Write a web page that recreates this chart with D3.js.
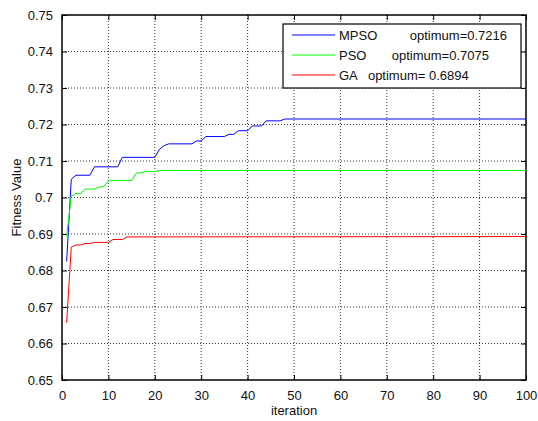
<!DOCTYPE html>
<html>
<head>
<meta charset="utf-8">
<script src="https://cdn.jsdelivr.net/npm/d3@7"></script>
<style>
  body { margin: 0; background: #fff; }
  text { font-family: "Liberation Sans", Arial, sans-serif; fill: #111; }
</style>
</head>
<body>
<svg id="chart"></svg>
<script>
// iteration / value pairs (break points of each curve)
const mpsoIter = [1, 2, 3, 6, 7, 12, 13, 20, 21, 22, 23, 28, 29, 30, 31, 35, 36, 37, 38, 40, 41, 43, 44, 47, 48, 100];
const mpsoVal  = [0.6825, 0.7050, 0.7061, 0.7061, 0.7084, 0.7084, 0.7110, 0.7110, 0.7132, 0.7142, 0.7147, 0.7147,
                  0.7155, 0.7155, 0.7167, 0.7167, 0.7173, 0.7173, 0.7183, 0.7183, 0.7196, 0.7196, 0.7210, 0.7210, 0.7215, 0.7215];
const psoIter = [1, 2, 3, 4, 5, 7, 8, 9, 10, 15, 16, 17, 18, 20, 21, 100];
const psoVal  = [0.6893, 0.7004, 0.7011, 0.7011, 0.7023, 0.7023, 0.7029, 0.7030, 0.7046, 0.7047, 0.7067, 0.7068,
                 0.7071, 0.7071, 0.7074, 0.7074];
const gaIter = [1, 2, 3, 4, 5, 6, 7, 10, 11, 13, 14, 100];
const gaVal  = [0.6657, 0.6864, 0.6870, 0.6870, 0.6874, 0.6874, 0.6877, 0.6877, 0.6885, 0.6885, 0.6892, 0.6893];

const seriesNames = ["MPSO", "PSO", "GA"];
const legendLabels = ["MPSO         optimum=0.7216", "PSO       optimum=0.7075", "GA   optimum= 0.6894"];
const seriesColors = ["#0000ff", "#00ff00", "#ff0000"];

const xTicks = [0, 10, 20, 30, 40, 50, 60, 70, 80, 90, 100];
const yTicks = [0.65, 0.66, 0.67, 0.68, 0.69, 0.70, 0.71, 0.72, 0.73, 0.74, 0.75];

const width = 538, height = 421;
const margin = { left: 62, right: 12, top: 15, bottom: 41 };
const w = width - margin.left - margin.right;
const h = height - margin.top - margin.bottom;

const svg = d3.select("#chart").attr("width", width).attr("height", height);
const g = svg.append("g").attr("transform", `translate(${margin.left},${margin.top})`);

const x = d3.scaleLinear().domain([0, 100]).range([0, w]);
const y = d3.scaleLinear().domain([0.65, 0.75]).range([h, 0]);

// dotted grid
g.append("g").selectAll("line").data(xTicks.slice(1, -1)).join("line")
  .attr("x1", d => x(d)).attr("x2", d => x(d)).attr("y1", 0).attr("y2", h)
  .attr("stroke", "#333").attr("stroke-width", 1).attr("stroke-dasharray", "1,2");
g.append("g").selectAll("line").data(yTicks.slice(1, -1)).join("line")
  .attr("y1", d => y(d)).attr("y2", d => y(d)).attr("x1", 0).attr("x2", w)
  .attr("stroke", "#333").attr("stroke-width", 1).attr("stroke-dasharray", "1,2");

// axes, ticks inward on all four sides
const fmtY = d3.format(".2~f");
const xb = g.append("g").attr("transform", `translate(0,${h})`)
  .call(d3.axisBottom(x).tickValues(xTicks).tickSize(-5).tickPadding(11));
const xt = g.append("g").call(d3.axisTop(x).tickValues(xTicks).tickSize(-5).tickFormat(""));
const yl = g.append("g").call(d3.axisLeft(y).tickValues(yTicks).tickSize(-5).tickPadding(9).tickFormat(fmtY));
const yr = g.append("g").attr("transform", `translate(${w},0)`)
  .call(d3.axisRight(y).tickValues(yTicks).tickSize(-5).tickFormat(""));
[xb, xt, yl, yr].forEach(a => {
  a.select(".domain").remove();
  a.selectAll("line").attr("stroke", "#000");
  a.selectAll("text").style("font-size", "13px").style("font-family", "Liberation Sans, Arial, sans-serif").attr("fill", "#111");
});

g.append("rect").attr("width", w).attr("height", h)
  .attr("fill", "none").attr("stroke", "#000").attr("stroke-width", 1.5);

// curves
const seriesData = [
  mpsoIter.map((it, i) => ({ it, v: mpsoVal[i] })),
  psoIter.map((it, i) => ({ it, v: psoVal[i] })),
  gaIter.map((it, i) => ({ it, v: gaVal[i] }))
];
const line = d3.line().x(d => x(d.it)).y(d => y(d.v));
g.selectAll(".curve").data(seriesData).join("path")
  .attr("class", "curve")
  .attr("fill", "none")
  .attr("stroke", (d, i) => seriesColors[i])
  .attr("stroke-width", 1)
  .attr("d", line);

// axis labels
svg.append("text").attr("x", margin.left + w / 2).attr("y", 415)
  .attr("text-anchor", "middle").style("font-size", "13px").text("iteration");
svg.append("text").attr("transform", `translate(21,${margin.top + h / 2}) rotate(-90)`)
  .attr("text-anchor", "middle").style("font-size", "13px").text("Fitness Value");

// legend
const lg = svg.append("g").attr("transform", "translate(283,24)");
lg.append("rect").attr("width", 238).attr("height", 64)
  .attr("fill", "#fff").attr("stroke", "#000").attr("stroke-width", 1.2);
const rows = lg.selectAll(".row").data(seriesNames).join("g")
  .attr("class", "row").attr("transform", (d, i) => `translate(0,${11 + i * 20})`);
rows.append("line").attr("x1", 9).attr("x2", 52)
  .attr("stroke", (d, i) => seriesColors[i]).attr("stroke-width", 1);
rows.append("text").attr("x", 56).attr("dy", "0.35em")
  .attr("xml:space", "preserve").style("white-space", "pre")
  .style("font-size", "13px").text((d, i) => legendLabels[i]);
</script>
</body>
</html>
